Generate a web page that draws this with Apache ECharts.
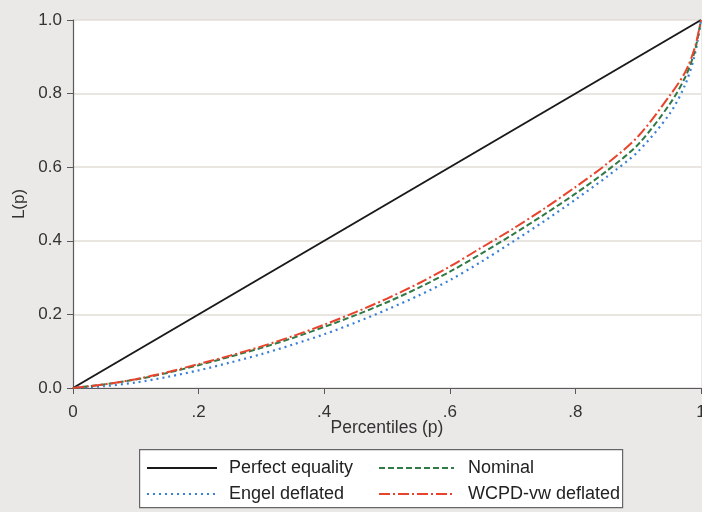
<!DOCTYPE html>
<html><head><meta charset="utf-8">
<script src="https://cdn.jsdelivr.net/npm/echarts@6/dist/echarts.min.js"></script>
<style>html,body{margin:0;padding:0;background:#EAE9E7;}#c{width:702px;height:512px;}</style>
</head><body><div id="c"></div>
<script>
var percentiles = [0,0.05,0.1,0.15,0.2,0.25,0.3,0.35,0.4,0.45,0.5,0.55,0.6,0.65,0.7,0.75,0.8,0.85,0.9,0.95,0.975,0.99,1];
var equalityP = [0,1];
var equalityL = [0,1];
var nominal = [0,0.010,0.023,0.041,0.062,0.085,0.109,0.136,0.166,0.198,0.233,0.272,0.316,0.365,0.417,0.471,0.528,0.590,0.662,0.771,0.845,0.915,1];
var engel = [0,0.005,0.015,0.030,0.048,0.069,0.092,0.118,0.146,0.178,0.213,0.251,0.293,0.343,0.397,0.453,0.512,0.574,0.643,0.745,0.825,0.905,1];
var wcpd = [0,0.010,0.024,0.043,0.065,0.088,0.113,0.141,0.172,0.206,0.243,0.284,0.330,0.381,0.432,0.487,0.546,0.609,0.684,0.794,0.859,0.924,1];
var xTickLabels = {0:'0',0.2:'.2',0.4:'.4',0.6:'.6',0.8:'.8',1:'1'};

function zip(xs, ys){ return xs.map(function(x,i){ return [x, ys[i]]; }); }
var font = '"Liberation Sans", Arial, sans-serif';
var axisCol = '#5a5a5a';
var chart = echarts.init(document.getElementById('c'));
chart.setOption({
  backgroundColor: '#EAE9E7',
  animation: false,
  grid: {left:73, right:1, top:20, bottom:124, show:true, backgroundColor:'#ffffff', borderWidth:0, outerBoundsMode:'none', containLabel:false},
  xAxis: {
    type:'value', min:0, max:1, interval:0.2,
    name:'Percentiles (p)', nameLocation:'middle', nameGap:31, nameMoveOverlap:false,
    nameTextStyle:{fontFamily:font, fontSize:17.5, color:'#333'},
    axisLine:{show:true, onZero:false, lineStyle:{color:axisCol, width:1.2}},
    axisTick:{show:true, length:6, lineStyle:{color:axisCol}},
    axisLabel:{fontFamily:font, fontSize:17, color:'#333', margin:16,
      formatter:function(v){ var k=Math.round(v*10)/10; return xTickLabels[k]!==undefined?xTickLabels[k]:''; }},
    splitLine:{show:false}
  },
  yAxis: {
    type:'value', min:0, max:1, interval:0.2,
    name:'L(p)', nameLocation:'middle', nameGap:45,
    nameTextStyle:{fontFamily:font, fontSize:17, color:'#333'},
    axisLine:{show:true, lineStyle:{color:axisCol, width:1.2}},
    axisTick:{show:true, length:6, lineStyle:{color:axisCol}},
    axisLabel:{fontFamily:font, fontSize:17, color:'#333', margin:11, formatter:function(v){ return v.toFixed(1); }},
    splitLine:{show:true, lineStyle:{color:'#e2ddd7', width:1.5}}
  },
  legend: [
    {orient:'vertical', left:146, top:459, padding:0, itemWidth:70, itemHeight:14, itemGap:8,
     itemStyle:{opacity:0},
     data:['Perfect equality','Engel deflated'],
     textStyle:{fontFamily:font, fontSize:18, lineHeight:18, color:'#222', padding:[0,0,0,7]}},
    {orient:'vertical', left:378, top:459, padding:0, itemWidth:75, itemHeight:14, itemGap:8,
     itemStyle:{opacity:0},
     data:['Nominal','WCPD-vw deflated'],
     textStyle:{fontFamily:font, fontSize:18, lineHeight:18, color:'#222', padding:[0,0,0,9]}}
  ],
  graphic: [{type:'rect', left:139, top:449, z:-1, shape:{width:483, height:58},
    style:{fill:'#ffffff', stroke:'#666666', lineWidth:1.2}}],
  series: [
    {name:'Perfect equality', type:'line', data:zip(equalityP, equalityL), symbol:'none',
     lineStyle:{color:'#1a1a1a', width:2, type:'solid'}, itemStyle:{color:'#1a1a1a'}},
    {name:'Engel deflated', type:'line', data:zip(percentiles, engel), symbol:'none', smooth:0.3,
     lineStyle:{color:'#3a7fd6', width:2.2, type:[2,4]}, itemStyle:{color:'#3a7fd6'}},
    {name:'Nominal', type:'line', data:zip(percentiles, nominal), symbol:'none', smooth:0.3,
     lineStyle:{color:'#2f7a45', width:2, type:[6,3]}, itemStyle:{color:'#2f7a45'}},
    {name:'WCPD-vw deflated', type:'line', data:zip(percentiles, wcpd), symbol:'none', smooth:0.3,
     lineStyle:{color:'#e8432c', width:2, type:[11,3,2,3]}, itemStyle:{color:'#e8432c'}}
  ]
});
</script></body></html>
